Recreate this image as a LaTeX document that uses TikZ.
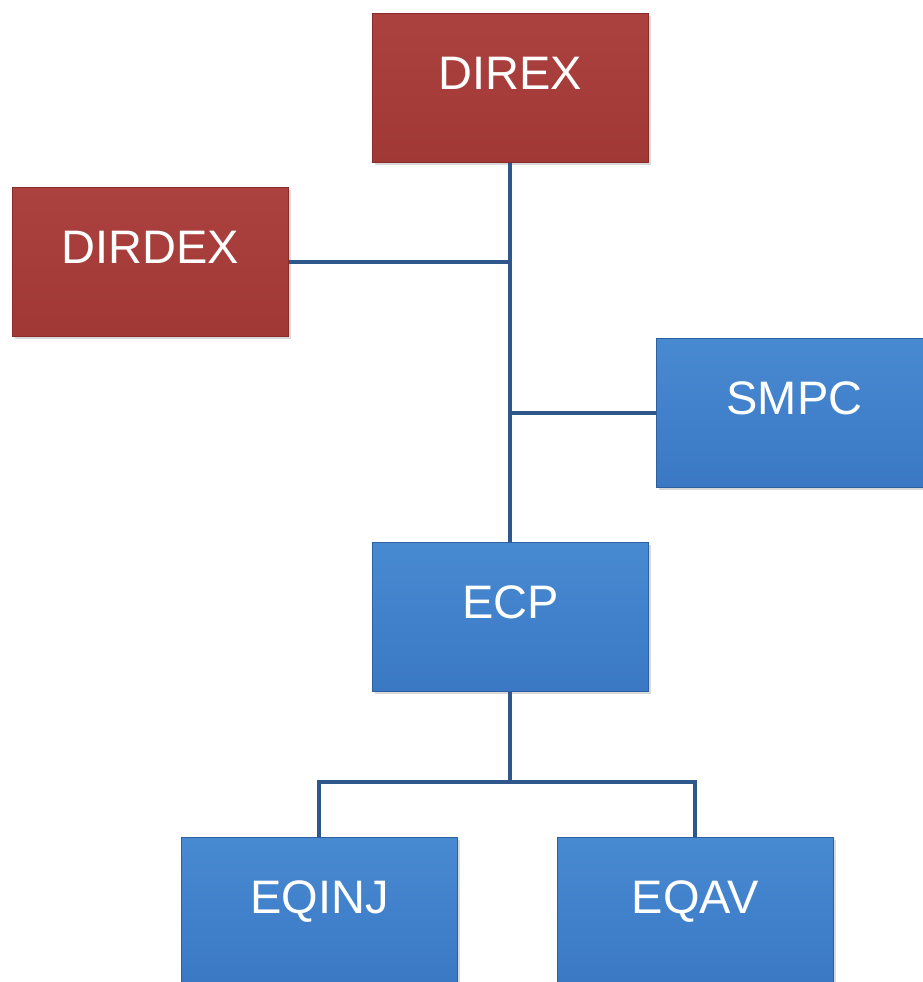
\documentclass[tikz,border=0pt]{standalone}
\usepackage{fontspec}
\setmainfont{Liberation Sans}
\usetikzlibrary{shadows}
\definecolor{redtop}{RGB}{172,66,64}
\definecolor{redbot}{RGB}{160,56,54}
\definecolor{redline}{RGB}{135,44,42}
\definecolor{bluetop}{RGB}{72,138,210}
\definecolor{bluebot}{RGB}{58,120,196}
\definecolor{blueline}{RGB}{44,96,160}
\definecolor{conn}{RGB}{46,88,140}
\tikzset{
  x=1pt, y=-1pt,
  orgbox/.style={rectangle, anchor=north west, minimum width=276pt, minimum height=149pt,
    inner sep=0pt, text=white, font=\fontsize{47}{50}\selectfont,
    text height=35pt, text depth=32pt, line width=0.8pt,
    drop shadow={shadow xshift=3pt, shadow yshift=-3pt, opacity=0.25, fill=black!60}},
  redbox/.style={orgbox, draw=redline, top color=redtop, bottom color=redbot},
  bluebox/.style={orgbox, draw=blueline, top color=bluetop, bottom color=bluebot},
  link/.style={draw=conn, line width=4pt}
}
\begin{document}
\begin{tikzpicture}
\useasboundingbox (0,0) rectangle (922,982);
\node[redbox] (direx) at (372,13) {DIREX};
\node[redbox] (dirdex) at (12,187) {DIRDEX};
\node[bluebox] (smpc) at (656,338) {SMPC};
\node[bluebox] (ecp) at (372,542) {ECP};
\node[bluebox] (eqinj) at (181,837) {EQINJ};
\node[bluebox] (eqav) at (557,837) {EQAV};
\coordinate (jd) at (direx.south |- dirdex.east);
\coordinate (js) at (direx.south |- smpc.west);
\coordinate (jb) at ([yshift=-90pt]ecp.south);
\draw[link] (direx.south) -- (ecp.north);
\draw[link] (dirdex.east) -- (jd);
\draw[link] (js) -- (smpc.west);
\draw[link] (ecp.south) -- (jb);
\draw[link] (eqinj.north) -- (eqinj.north |- jb) -- (eqav.north |- jb) -- (eqav.north);
\end{tikzpicture}
\end{document}
